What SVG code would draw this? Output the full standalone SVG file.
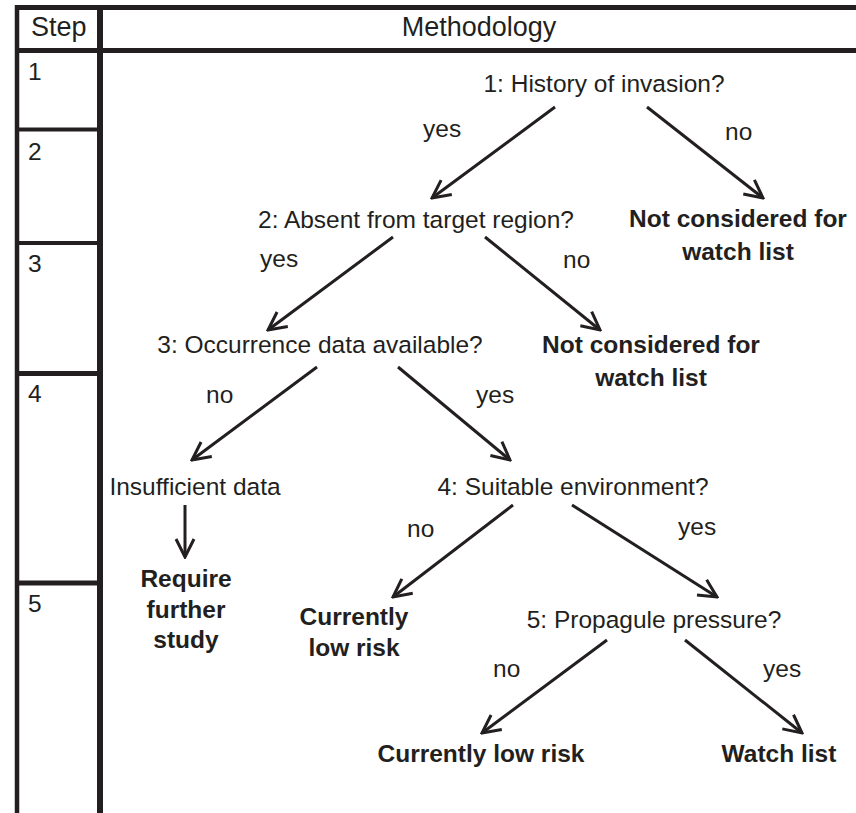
<svg xmlns="http://www.w3.org/2000/svg" width="856" height="813" viewBox="0 0 856 813">
<defs>
<style>
text{font-family:"Liberation Sans",Arial,sans-serif;font-size:24.5px;fill:#231f20}
.b{font-weight:bold}
.m{text-anchor:middle}
.hd{font-size:27px}
.grid{stroke:#231f20;fill:none}
.conn line{stroke:#231f20;stroke-width:3;marker-end:url(#ah)}
</style>
<marker id="ah" viewBox="0 0 22 22" refX="20" refY="11" markerWidth="22" markerHeight="22" markerUnits="userSpaceOnUse" orient="auto">
<path d="M2,2 L20,11 L2,20" fill="none" stroke="#231f20" stroke-width="3"/>
</marker>
</defs>
<rect width="856" height="813" fill="#fff"/>
<g id="table">
<line class="grid" x1="15" y1="7.5" x2="856" y2="7.5" stroke-width="5"/>
<line class="grid" x1="15" y1="50.5" x2="856" y2="50.5" stroke-width="5"/>
<line class="grid" x1="17" y1="5" x2="17" y2="813" stroke-width="4.5"/>
<line class="grid" x1="100" y1="5" x2="100" y2="813" stroke-width="6"/>
<line class="grid" x1="15" y1="129.5" x2="100" y2="129.5" stroke-width="4"/>
<line class="grid" x1="15" y1="243" x2="100" y2="243" stroke-width="4"/>
<line class="grid" x1="15" y1="373.5" x2="100" y2="373.5" stroke-width="5"/>
<line class="grid" x1="15" y1="583" x2="100" y2="583" stroke-width="5"/>
<text class="hd" x="31" y="36">Step</text>
<text class="hd m" x="479" y="36">Methodology</text>
<text x="28" y="80">1</text>
<text x="28" y="160">2</text>
<text x="28" y="272">3</text>
<text x="28" y="402">4</text>
<text x="28" y="612">5</text>
</g>
<g class="conn" id="connectors">
<line x1="555" y1="107" x2="432" y2="198"/>
<line x1="647" y1="107" x2="763" y2="198"/>
<line x1="393" y1="237" x2="268" y2="330"/>
<line x1="485" y1="237" x2="600" y2="330"/>
<line x1="317" y1="367" x2="192" y2="460"/>
<line x1="398" y1="367" x2="510" y2="460"/>
<line x1="185" y1="505" x2="185" y2="557"/>
<line x1="513" y1="505" x2="393" y2="597"/>
<line x1="572" y1="505" x2="717" y2="597"/>
<line x1="607" y1="640" x2="482" y2="733"/>
<line x1="685" y1="640" x2="802" y2="733"/>
</g>
<g id="labels">
<text x="423" y="137">yes</text>
<text x="725" y="140">no</text>
<text x="260" y="267">yes</text>
<text x="563" y="268">no</text>
<text x="206" y="403">no</text>
<text x="476" y="403">yes</text>
<text x="407" y="537">no</text>
<text x="678" y="535">yes</text>
<text x="493" y="677">no</text>
<text x="763" y="677">yes</text>
</g>
<g id="n1"><text class="m" x="604" y="92">1: History of invasion?</text></g>
<g id="n1no"><text class="m b" x="738" y="227">Not considered for</text><text class="m b" x="738" y="260">watch list</text></g>
<g id="n2"><text class="m" x="416" y="228">2: Absent from target region?</text></g>
<g id="n2no"><text class="m b" x="651" y="353">Not considered for</text><text class="m b" x="651" y="386">watch list</text></g>
<g id="n3"><text class="m" x="320" y="353">3: Occurrence data available?</text></g>
<g id="n3no"><text class="m" x="195" y="495">Insufficient data</text></g>
<g id="n3study"><text class="m b" x="186" y="587">Require</text><text class="m b" x="186" y="618">further</text><text class="m b" x="186" y="648">study</text></g>
<g id="n4"><text class="m" x="573" y="495">4: Suitable environment?</text></g>
<g id="n4no"><text class="m b" x="354" y="625">Currently</text><text class="m b" x="354" y="656">low risk</text></g>
<g id="n5"><text class="m" x="654" y="628">5: Propagule pressure?</text></g>
<g id="n5no"><text class="m b" x="481" y="762">Currently low risk</text></g>
<g id="n5yes"><text class="m b" x="779" y="762">Watch list</text></g>
</svg>
